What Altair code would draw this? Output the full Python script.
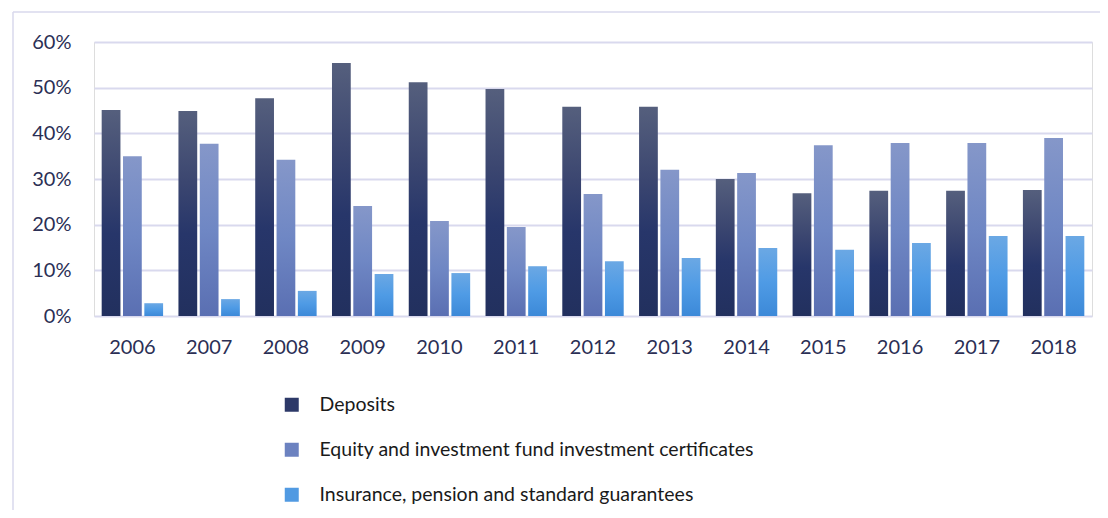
import altair as alt
import pandas as pd

years = [str(y) for y in range(2006, 2019)]
series = [
    "Deposits",
    "Equity and investment fund investment certificates",
    "Insurance, pension and standard guarantees",
]
deposits = [45.1, 44.9, 47.7, 55.4, 51.2, 49.7, 45.8, 45.8, 30.0, 26.9, 27.4, 27.4, 27.6]
equity = [35.0, 37.7, 34.2, 24.1, 20.8, 19.5, 26.7, 32.0, 31.3, 37.4, 37.9, 37.9, 39.0]
insurance = [2.8, 3.7, 5.5, 9.2, 9.4, 10.9, 12.0, 12.7, 14.9, 14.5, 16.0, 17.5, 17.5]
y_ticks = [0, 10, 20, 30, 40, 50, 60]

rows = []
for name, vals in zip(series, [deposits, equity, insurance]):
    for yr, v in zip(years, vals):
        rows.append({"year": yr, "series": name, "value": v})
df = pd.DataFrame(rows)

gradients = {
    series[0]: [("#555f7d", 0), ("#3b4670", 0.35), ("#27366a", 0.6), ("#22305e", 1)],
    series[1]: [("#8597c9", 0), ("#6f87c4", 0.5), ("#5a6fb2", 1)],
    series[2]: [("#6ba8e4", 0), ("#4f9be5", 0.5), ("#3c89d8", 1)],
}
legend_colors = ["#2d3968", "#6c82c0", "#519ae2"]

FONT = "Lato"
TXT = "#2b2f55"

x_enc = alt.X(
    "year:N",
    sort=years,
    scale=alt.Scale(paddingInner=0.2, paddingOuter=0.1),
    axis=alt.Axis(
        title=None, labelAngle=0, ticks=False, domain=False, grid=False,
        labelFontSize=20, labelColor=TXT, labelFont=FONT, labelPadding=21,
    ),
)
xoff = alt.XOffset("series:N", sort=series, scale=alt.Scale(domain=series, paddingInner=0.12))
y_enc = alt.Y(
    "value:Q",
    scale=alt.Scale(domain=[0, 60], nice=False),
    axis=alt.Axis(
        title=None, values=y_ticks, labelExpr="datum.value + '%'", ticks=False,
        domain=False, grid=True, gridColor="#d9d9ee", gridWidth=2,
        labelFontSize=20, labelColor=TXT, labelFont=FONT, labelPadding=23,
    ),
)

base = alt.Chart(df)

legend_layer = base.mark_bar(opacity=0).encode(
    x=x_enc, xOffset=xoff, y=y_enc,
    color=alt.Color(
        "series:N",
        sort=series,
        scale=alt.Scale(domain=series, range=legend_colors),
        legend=alt.Legend(
            title=None, orient="none", legendX=188, legendY=353,
            symbolType="square", symbolSize=196, symbolOpacity=1,
            symbolStrokeWidth=0, labelFontSize=19.5, labelFont=FONT,
            labelColor="#1a1a1a", labelOffset=18, rowPadding=24,
            labelLimit=800,
        ),
    ),
)

layers = [legend_layer]
for name in series:
    g = alt.Gradient(
        gradient="linear",
        stops=[alt.GradientStop(color=c, offset=o) for c, o in gradients[name]],
        x1=0, x2=0, y1=0, y2=1,
    )
    layers.append(
        base.transform_filter(alt.datum.series == name)
        .mark_bar(color=g)
        .encode(x=x_enc, xOffset=xoff, y=y_enc)
    )

frame_top = alt.Chart(pd.DataFrame({"k": [0]})).mark_rule(color="#d8d8ec", strokeWidth=1.5).encode(
    x=alt.value(-81), x2=alt.value(1006), y=alt.value(-30)
)
frame_left = alt.Chart(pd.DataFrame({"k": [0]})).mark_rule(color="#d8d8ec", strokeWidth=1.5).encode(
    x=alt.value(-81), y=alt.value(-30), y2=alt.value(470)
)

chart = alt.layer(*layers, frame_top, frame_left).properties(
    width=998, height=274,
    autosize=alt.AutoSizeParams(type="none"),
    padding={"left": 86, "top": 34, "right": 8, "bottom": 194},
).configure_view(stroke=None).configure(background="white")

chart.save("out.html", embed_options={"renderer": "svg", "actions": False})
